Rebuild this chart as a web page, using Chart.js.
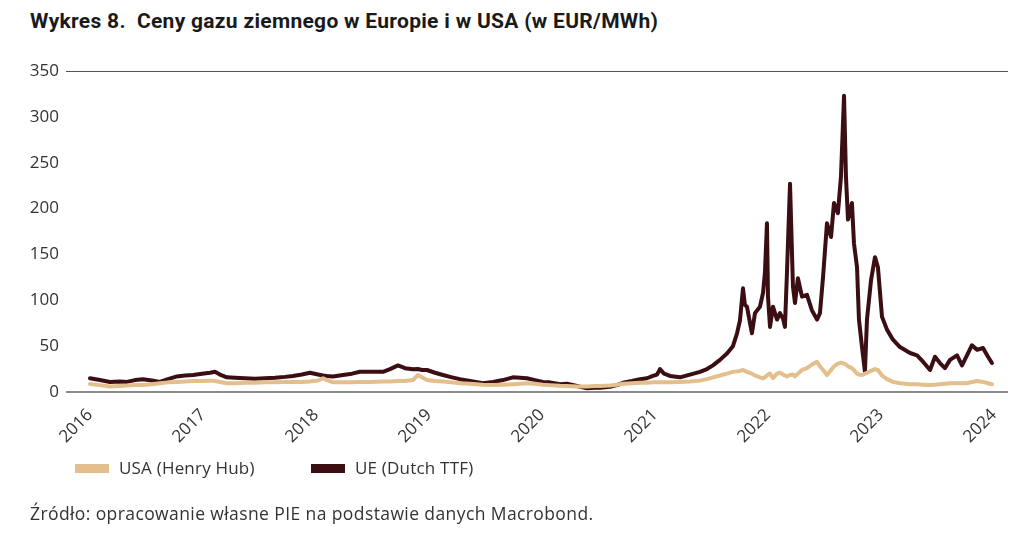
<!DOCTYPE html>
<html>
<head>
  <title>Ceny gazu ziemnego</title>
  <script src="https://cdn.jsdelivr.net/npm/chart.js"></script>
  <style>
    body { margin: 0; width: 1024px; height: 545px; background: #fff; position: relative; overflow: hidden; font-family: "Open Sans", sans-serif; color: #333; }
    #title { position: absolute; left: 30px; top: 9px; font-family: Roboto, sans-serif; font-weight: bold; font-size: 21px; letter-spacing: 0.3px; color: #1a1a1a; white-space: pre; }
    #wrap { position: absolute; left: 0; top: 0; width: 1024px; height: 545px; }
    .leg { position: absolute; top: 456px; font-size: 17px; letter-spacing: 0.2px; color: #333; }
    .sw { display: inline-block; width: 34px; height: 9px; vertical-align: middle; margin-right: 10px; position: relative; top: -1px; }
    #source { position: absolute; left: 30px; top: 501px; font-size: 17.5px; letter-spacing: 0.4px; color: #333; }
  </style>
</head>
<body>
<div id="title">Wykres 8.  Ceny gazu ziemnego w Europie i w USA (w EUR/MWh)</div>
<div id="wrap"><canvas id="myChart" width="1024" height="545"></canvas></div>
<div class="leg" style="left:75px"><span class="sw" style="background:#e2bf8c"></span>USA (Henry Hub)</div>
<div class="leg" style="left:311px"><span class="sw" style="background:#3a0e12"></span>UE (Dutch TTF)</div>
<div id="source">Źródło: opracowanie własne PIE na podstawie danych Macrobond.</div>
<script>
  // dates as decimal years
  const dates = [
    2016.000, 2016.088, 2016.177, 2016.265, 2016.327, 2016.398, 2016.469, 2016.549, 2016.619, 2016.690,
    2016.770, 2016.841, 2016.912, 2016.991, 2017.062, 2017.106, 2017.150, 2017.212, 2017.283, 2017.372,
    2017.460, 2017.549, 2017.637, 2017.726, 2017.796, 2017.876, 2017.947, 2018.018, 2018.062, 2018.097,
    2018.150, 2018.239, 2018.319, 2018.389, 2018.478, 2018.593, 2018.655, 2018.726, 2018.788, 2018.858,
    2018.903, 2018.938, 2018.982, 2019.053, 2019.124, 2019.204, 2019.274, 2019.363, 2019.478, 2019.566,
    2019.655, 2019.743, 2019.805, 2019.867, 2019.938, 2020.009, 2020.071, 2020.159, 2020.221, 2020.310,
    2020.398, 2020.469, 2020.513, 2020.602, 2020.664, 2020.717, 2020.796, 2020.867, 2020.929, 2020.982,
    2021.018, 2021.044, 2021.080, 2021.133, 2021.221, 2021.310, 2021.398, 2021.460, 2021.513, 2021.575,
    2021.637, 2021.690, 2021.726, 2021.752, 2021.779, 2021.796, 2021.814, 2021.858, 2021.885, 2021.929,
    2021.956, 2021.973, 2021.991, 2022.000, 2022.018, 2022.044, 2022.080, 2022.106, 2022.133, 2022.150,
    2022.168, 2022.195, 2022.221, 2022.239, 2022.265, 2022.301, 2022.345, 2022.389, 2022.434, 2022.460,
    2022.487, 2022.522, 2022.558, 2022.584, 2022.619, 2022.646, 2022.673, 2022.690, 2022.708, 2022.743,
    2022.761, 2022.788, 2022.805, 2022.832, 2022.858, 2022.876, 2022.912, 2022.947, 2022.973, 2023.009,
    2023.053, 2023.106, 2023.168, 2023.257, 2023.319, 2023.372, 2023.434, 2023.478, 2023.522, 2023.566,
    2023.611, 2023.673, 2023.717, 2023.761, 2023.805, 2023.850, 2023.903, 2023.947, 2023.982
  ];

  const usaHenryHub = [
    8.7, 7.5, 6.0, 6.5, 7.0, 7.5, 7.6, 8.5, 9.5, 10.5,
    11.0, 11.5, 12.0, 12.0, 12.4, 12.0, 11.0, 9.5, 9.5, 10.0,
    10.0, 10.5, 10.5, 11.0, 11.0, 11.0, 11.5, 12.5, 15.0, 13.0,
    10.5, 10.5, 10.5, 11.0, 11.0, 11.5, 11.5, 12.0, 12.0, 13.0,
    18.5, 16.0, 13.0, 12.0, 11.5, 10.5, 9.5, 9.0, 8.0, 7.6,
    8.0, 8.5, 9.0, 9.5, 9.0, 8.0, 7.5, 6.7, 6.5, 6.0,
    6.0, 6.5, 6.5, 7.0, 8.0, 9.0, 9.5, 10.0, 10.0, 10.5,
    10.5, 10.5, 10.5, 10.5, 11.0, 11.5, 12.4, 14.0, 16.0, 18.0,
    20.0, 22.0, 22.5, 23.0, 24.0, 23.0, 22.0, 20.0, 18.0, 16.0,
    15.0, 16.0, 18.0, 19.0, 20.0, 15.0, 20.0, 21.0, 19.0, 18.0,
    17.0, 18.5, 19.0, 17.0, 20.0, 24.0, 26.0, 30.0, 33.0, 28.0,
    24.0, 18.5, 24.0, 28.0, 31.0, 32.0, 31.0, 30.0, 28.0, 26.0,
    24.0, 20.0, 19.0, 18.5, 20.0, 21.0, 23.0, 25.0, 24.0, 18.0,
    14.0, 11.0, 9.5, 8.5, 8.4, 8.0, 7.6, 8.0, 8.5, 9.0,
    9.5, 9.5, 9.5, 9.5, 11.0, 12.0, 11.0, 9.5, 8.4
  ];

  const ueDutchTTF = [
    15.0, 13.0, 11.0, 11.5, 11.0, 13.0, 14.0, 12.5, 11.0, 14.0,
    17.0, 18.0, 18.5, 20.0, 21.0, 22.0, 19.0, 16.0, 15.5, 15.0,
    14.5, 15.0, 15.5, 16.5, 17.5, 19.0, 21.0, 19.0, 18.0, 17.5,
    17.0, 18.5, 20.0, 22.0, 22.0, 22.0, 25.0, 29.0, 26.0, 24.7,
    25.0, 24.0, 24.0, 21.0, 18.5, 16.0, 14.0, 12.0, 9.5, 11.0,
    13.0, 16.0, 15.5, 15.0, 13.0, 11.0, 10.5, 8.4, 9.0, 6.5,
    4.0, 4.5, 4.7, 5.8, 7.5, 10.0, 12.0, 14.0, 15.0, 17.5,
    19.0, 25.0, 20.0, 17.5, 16.0, 19.0, 22.0, 25.0, 29.0, 35.0,
    42.0, 50.0, 64.0, 78.0, 113.0, 95.0, 93.0, 64.0, 86.0, 93.0,
    108.0, 130.0, 184.0, 104.0, 71.0, 93.0, 79.0, 86.0, 80.0, 71.0,
    130.0, 227.0, 115.0, 97.0, 124.0, 104.0, 106.0, 89.0, 79.0, 86.0,
    125.0, 184.0, 169.0, 206.0, 195.0, 235.0, 323.0, 235.0, 188.0, 206.0,
    162.0, 136.0, 79.0, 49.0, 22.0, 79.0, 122.0, 147.0, 136.0, 82.0,
    68.0, 57.0, 49.0, 42.5, 40.0, 33.0, 24.0, 38.5, 31.6, 26.0,
    35.0, 40.0, 29.0, 40.0, 51.0, 46.0, 48.0, 38.5, 31.6
  ];

  const yearTicks = [2016, 2017, 2018, 2019, 2020, 2021, 2022, 2023, 2024];

  const toPoints = vals => vals.map((v, i) => ({ x: dates[i], y: v }));

  const ctx = document.getElementById('myChart').getContext('2d');
  new Chart(ctx, {
    type: 'line',
    data: {
      datasets: [
        {
          label: 'USA (Henry Hub)',
          data: toPoints(usaHenryHub),
          borderColor: '#e2bf8c',
          borderWidth: 4,
          borderJoinStyle: 'round',
          borderCapStyle: 'round',
          pointRadius: 0,
          tension: 0,
          fill: false
        },
        {
          label: 'UE (Dutch TTF)',
          data: toPoints(ueDutchTTF),
          borderColor: '#3a0e12',
          borderWidth: 4,
          borderJoinStyle: 'round',
          borderCapStyle: 'round',
          pointRadius: 0,
          tension: 0,
          fill: false
        }
      ]
    },
    options: {
      responsive: false,
      animation: false,
      layout: { padding: { top: 71, right: 16, bottom: 93, left: 0 } },
      plugins: { legend: { display: false }, tooltip: { enabled: false } },
      scales: {
        x: {
          type: 'linear',
          min: 2015.788,
          max: 2024.124,
          afterBuildTicks: axis => { axis.ticks = yearTicks.map(v => ({ value: v })); },
          afterFit: axis => { axis.height = 60; },
          grid: { display: false },
          border: { display: false },
          ticks: {
            minRotation: 45,
            maxRotation: 45,
            padding: 5,
            color: '#333',
            font: { family: 'Open Sans', size: 17 },
            callback: v => String(v)
          }
        },
        y: {
          min: 0,
          max: 350,
          afterFit: axis => { axis.width = 66; },
          border: { display: false },
          grid: {
            drawTicks: false,
            color: c => c.tick.value === 350 ? '#555' : (c.tick.value === 0 ? '#8a8a8a' : 'rgba(0,0,0,0)'),
            lineWidth: c => c.tick.value === 0 ? 2 : 1
          },
          ticks: {
            stepSize: 50,
            padding: 7,
            color: '#333',
            font: { family: 'Open Sans', size: 17 }
          }
        }
      }
    }
  });
</script>
</body>
</html>
